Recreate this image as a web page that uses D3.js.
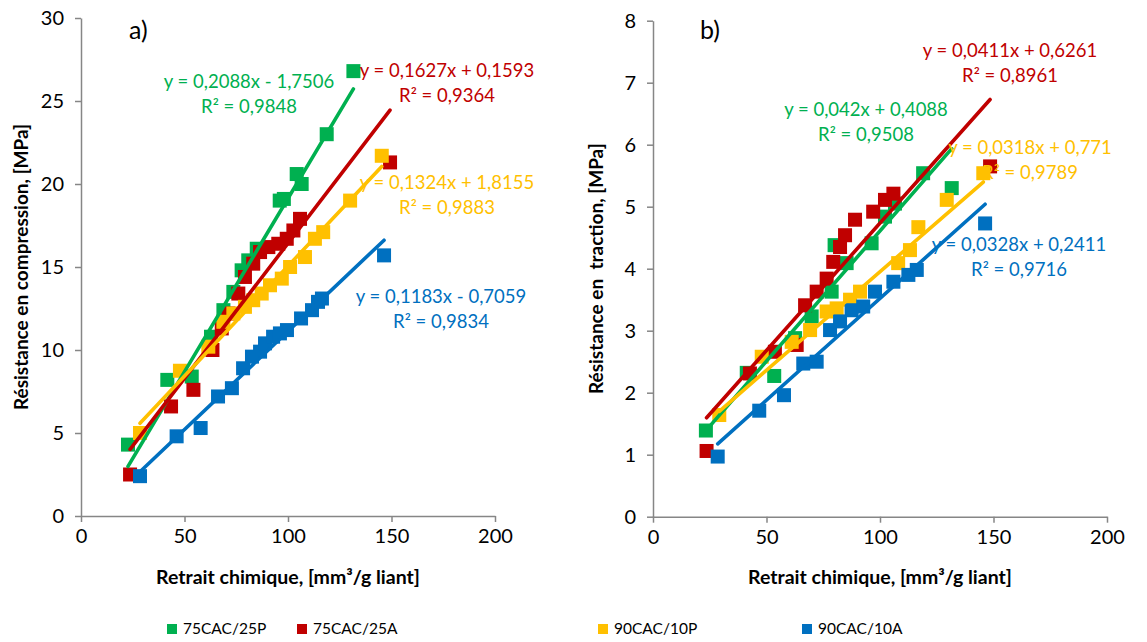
<!DOCTYPE html>
<html><head><meta charset="utf-8">
<script src="https://cdn.jsdelivr.net/npm/d3@7"></script>
<style>
body{margin:0;background:#fff;}
svg text{font-family:Lato,"Liberation Sans",sans-serif;}
</style></head>
<body><svg id="chart" width="1147" height="642"></svg>
<script>
// ---------- data ----------
const seriesNames = ["75CAC/25P","75CAC/25A","90CAC/10P","90CAC/10A"];
const seriesColors = ["#00B050","#C00000","#FFC000","#0070C0"];
const xTicks = [0,50,100,150,200];
const yTicksA = [0,5,10,15,20,25,30];
const yTicksB = [0,1,2,3,4,5,6,7,8];

// a) compression  [retrait, résistance]
const compP75 = [[22.7,4.3],[41.7,8.2],[53.5,8.4],[62.8,10.8],[68.8,12.4],[73.6,13.5],[77.6,14.8],[80.8,15.4],[84.9,16.1],[96,19.0],[98,19.1],[104.2,20.6],[106.6,20.0],[118.7,23.0],[131.6,26.8]];
const compA75 = [[23.7,2.5],[43.5,6.6],[54.3,7.6],[63.5,10.0],[68,11.3],[71.2,12.2],[76,13.4],[79.2,14.4],[83.2,15.2],[86.5,15.9],[90.5,16.2],[95.3,16.4],[99.4,16.7],[102.6,17.2],[105.8,17.9],[149.3,21.3]];
const compP90 = [[28.5,5.0],[47.8,8.75],[61.5,10.2],[68.8,11.7],[73.6,12.2],[79.2,12.6],[83.2,13.0],[87.3,13.4],[91.3,13.9],[97,14.3],[101,15.0],[108.2,15.6],[113,16.7],[117,17.1],[130,19.0],[145.3,21.7]];
const compA90 = [[28.5,2.4],[46.2,4.8],[57.8,5.3],[66.2,7.2],[72.9,7.7],[78.3,8.9],[82.6,9.6],[86.5,9.9],[88.9,10.4],[92.8,10.8],[96.1,11.0],[99.5,11.2],[106.3,11.9],[111.6,12.4],[114.5,12.9],[116.4,13.1],[146.4,15.7]];
const compSlopes = [0.2088,0.1627,0.1324,0.1183];
const compIntercepts = [-1.7506,0.1593,1.8155,-0.7059];
const compEq = ["y = 0,2088x - 1,7506","y = 0,1627x + 0,1593","y = 0,1324x + 1,8155","y = 0,1183x - 0,7059"];
const compR2 = ["R² = 0,9848","R² = 0,9364","R² = 0,9883","R² = 0,9834"];

// b) traction
const tracP75 = [[23.3,1.39],[41.3,2.32],[53.4,2.27],[62.6,2.88],[69.9,3.23],[78.7,3.63],[80,4.38],[85.3,4.09],[96.3,4.41],[102.2,4.84],[106.6,5.05],[119,5.54],[131.6,5.3]];
const tracA75 = [[23.6,1.06],[42.7,2.31],[53.7,2.66],[63.3,2.77],[67,3.41],[72.1,3.63],[76.5,3.84],[79.4,4.11],[82.4,4.35],[84.6,4.54],[89,4.79],[97,4.92],[102.2,5.11],[105.9,5.21],[148.5,5.65]];
const tracP90 = [[29.2,1.64],[47.9,2.58],[61.1,2.82],[69.2,3.01],[76.5,3.31],[80.9,3.36],[86.8,3.5],[91.2,3.63],[108,4.09],[113.2,4.3],[116.9,4.67],[129.4,5.11],[145.5,5.54]];
const tracA90 = [[28.5,0.97],[46.8,1.71],[57.7,1.96],[66.2,2.47],[72.1,2.5],[78,3.01],[82.4,3.15],[87.5,3.33],[92.6,3.39],[97.8,3.63],[105.9,3.79],[112.5,3.9],[116.2,3.98],[146.3,4.73]];
const tracSlopes = [0.042,0.0411,0.0318,0.0328];
const tracIntercepts = [0.4088,0.6261,0.771,0.2411];
const tracEq = ["y = 0,042x + 0,4088","y = 0,0411x + 0,6261","y = 0,0318x + 0,771","y = 0,0328x + 0,2411"];
const tracR2 = ["R² = 0,9508","R² = 0,8961","R² = 0,9789","R² = 0,9716"];

// ---------- drawing ----------
const svg = d3.select("#chart");
const axisColor = "#868686";

function panel(cfg){
  const x = d3.scaleLinear().domain([0,200]).range(cfg.xr);
  const y = d3.scaleLinear().domain(cfg.yd).range(cfg.yr);
  const g = svg.append("g");
  // axes
  const ax = g.append("g").attr("transform",`translate(0,${cfg.yr[0]})`)
    .call(d3.axisBottom(x).tickValues(xTicks).tickSize(6).tickSizeOuter(0).tickPadding(7).tickFormat(d3.format("d")));
  const ay = g.append("g").attr("transform",`translate(${cfg.xr[0]},0)`)
    .call(d3.axisLeft(y).tickValues(cfg.yTicks).tickSize(6).tickSizeOuter(0).tickPadding(11).tickFormat(d3.format("d")));
  [ax,ay].forEach(a=>{
    a.select(".domain").attr("stroke",axisColor).attr("stroke-width",1.5);
    a.selectAll(".tick line").attr("stroke",axisColor).attr("stroke-width",1.5);
    a.selectAll(".tick text").attr("fill","#000").style("font-size","20px").style("font-family","Lato, sans-serif");
  });
  // markers
  cfg.data.forEach((pts,i)=>{
    g.append("g").selectAll("rect").data(pts).join("rect")
      .attr("x",d=>x(d[0])-7).attr("y",d=>y(d[1])-7)
      .attr("width",14).attr("height",14).attr("fill",seriesColors[i]);
  });
  // trendlines
  cfg.data.forEach((pts,i)=>{
    const ext = d3.extent(pts,d=>d[0]);
    const line = ext.map(v=>[v, cfg.slopes[i]*v+cfg.ints[i]]);
    g.append("line")
      .attr("x1",x(line[0][0])).attr("y1",y(line[0][1]))
      .attr("x2",x(line[1][0])).attr("y2",y(line[1][1]))
      .attr("stroke",seriesColors[i]).attr("stroke-width",3.6).attr("stroke-linecap","round");
  });
  // equation labels
  cfg.labels.forEach((p,i)=>{
    const t = g.append("text").attr("text-anchor","middle").attr("fill",seriesColors[i])
      .style("font-size","18.5px");
    t.append("tspan").attr("x",p[0]).attr("y",p[1]).attr("dy","0.35em").text(cfg.eq[i]);
    t.append("tspan").attr("x",p[0]).attr("y",p[1]+25).attr("dy","0.35em").text(cfg.r2[i]);
  });
  // panel letter
  g.append("text").attr("x",cfg.letter[0]).attr("y",cfg.letter[1]).attr("dy","0.35em")
    .style("font-size","25px").attr("fill","#000").text(cfg.letterText);
  // axis titles
  g.append("text").attr("x",(cfg.xr[0]+cfg.xr[1])/2).attr("y",577).attr("dy","0.35em")
    .attr("text-anchor","middle").style("font-size","19.5px").style("font-weight","bold")
    .text("Retrait chimique, [mm³/g liant]");
  g.append("text").attr("transform",`translate(${cfg.ytx},${(cfg.yr[0]+cfg.yr[1])/2}) rotate(-90)`)
    .attr("dy","0.35em").attr("text-anchor","middle").style("font-size","19px").style("font-weight","bold")
    .style("white-space","pre").text(cfg.ytitle);
}

panel({xr:[81,495], yd:[0,30], yr:[516,18], yTicks:yTicksA,
  data:[compP75,compA75,compP90,compA90], slopes:compSlopes, ints:compIntercepts,
  eq:compEq, r2:compR2,
  labels:[[249,82],[447,71],[447,183],[441,297]],
  letter:[129,30], letterText:"a)", ytx:21, ytitle:"Résistance en compression, [MPa]"});

panel({xr:[653,1107], yd:[0,8], yr:[516.7,20.7], yTicks:yTicksB,
  data:[tracP75,tracA75,tracP90,tracA90], slopes:tracSlopes, ints:tracIntercepts,
  eq:tracEq, r2:tracR2,
  labels:[[866,110],[1010,51],[1030,148],[1019,245]],
  letter:[700,30], letterText:"b)", ytx:596, ytitle:"Résistance en  traction, [MPa]"});

// legend
const legX = [172,302,603,807];
const leg = svg.append("g");
seriesNames.forEach((n,i)=>{
  leg.append("rect").attr("x",legX[i]-5).attr("y",624).attr("width",10).attr("height",10).attr("fill",seriesColors[i]);
  leg.append("text").attr("x",legX[i]+11).attr("y",629).attr("dy","0.35em")
    .style("font-size","15.5px").attr("fill","#000").text(n);
});
</script></body></html>
